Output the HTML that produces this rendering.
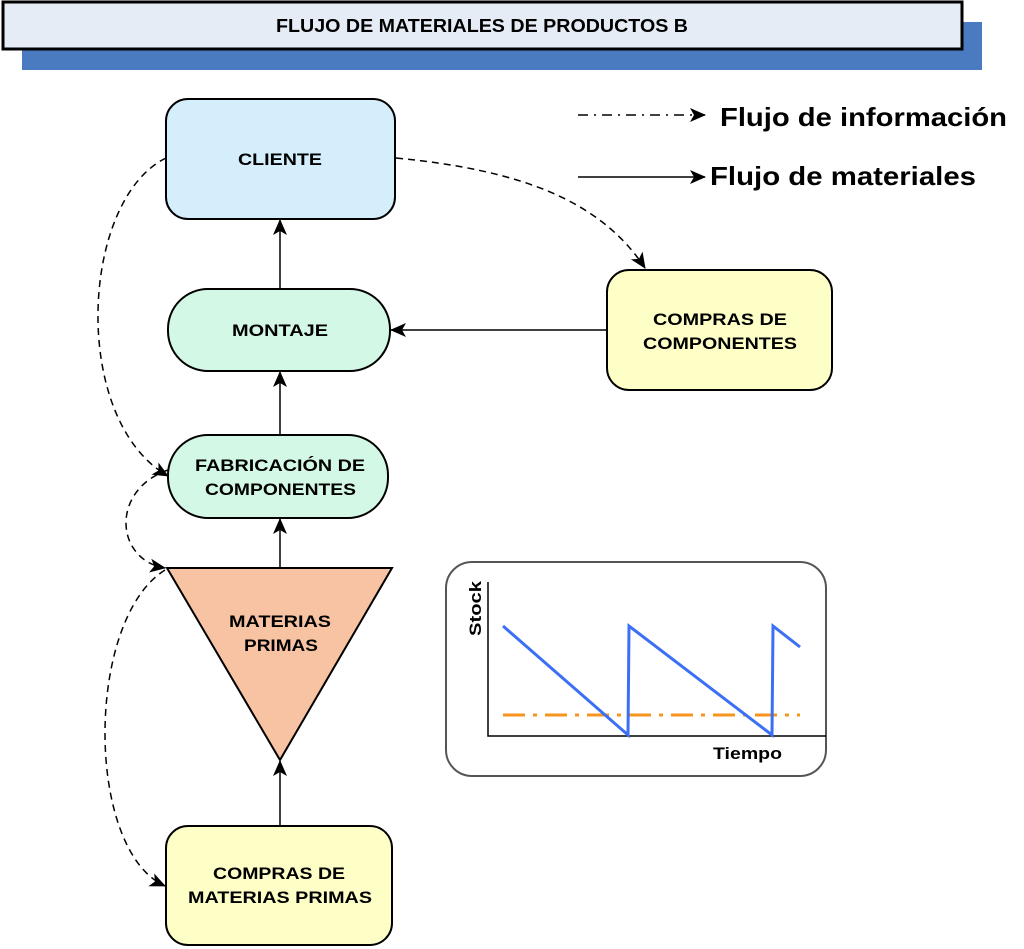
<!DOCTYPE html>
<html><head><meta charset="utf-8"><style>body{margin:0;background:#fff}svg{display:block}text{font-family:"Liberation Sans",sans-serif;font-weight:bold}</style></head><body>
<svg width="1024" height="949" viewBox="0 0 1024 949" xmlns="http://www.w3.org/2000/svg">
<defs>
<marker id="b" markerWidth="16" markerHeight="16" refX="15" refY="8" orient="auto" markerUnits="userSpaceOnUse"><path d="M0,1 L16,8 L0,15 L4,8 z" fill="#000"/></marker>
</defs>
<rect x="22" y="22" width="960" height="48" fill="#4a7abf"/>
<rect x="3" y="2" width="959" height="47" fill="#e6ecf6" stroke="#000" stroke-width="3"/>
<text x="276" y="32" font-size="18" textLength="412" lengthAdjust="spacingAndGlyphs">FLUJO DE MATERIALES DE PRODUCTOS B</text>

<rect x="166" y="99" width="229" height="120" rx="22" fill="#d5eefb" stroke="#000" stroke-width="2"/>
<text x="238" y="165" font-size="17" textLength="84" lengthAdjust="spacingAndGlyphs">CLIENTE</text>
<rect x="168" y="289" width="222" height="82" rx="40" fill="#d4f8e6" stroke="#000" stroke-width="2"/>
<text x="232" y="336" font-size="17" textLength="96" lengthAdjust="spacingAndGlyphs">MONTAJE</text>
<rect x="168" y="435" width="220" height="83" rx="40" fill="#d4f8e6" stroke="#000" stroke-width="2"/>
<text x="195" y="471" font-size="17" textLength="170" lengthAdjust="spacingAndGlyphs">FABRICACIÓN DE</text>
<text x="205" y="495" font-size="17" textLength="151" lengthAdjust="spacingAndGlyphs">COMPONENTES</text>
<path d="M167,568 L392,568 L280,760 Z" fill="#f7c3a2" stroke="#000" stroke-width="2"/>
<text x="229" y="627" font-size="17" textLength="102" lengthAdjust="spacingAndGlyphs">MATERIAS</text>
<text x="244" y="651" font-size="17" textLength="74" lengthAdjust="spacingAndGlyphs">PRIMAS</text>
<rect x="166" y="826" width="226" height="119" rx="22" fill="#feffc6" stroke="#000" stroke-width="2"/>
<text x="213" y="879" font-size="17" textLength="132" lengthAdjust="spacingAndGlyphs">COMPRAS DE</text>
<text x="188" y="903" font-size="17" textLength="184" lengthAdjust="spacingAndGlyphs">MATERIAS PRIMAS</text>
<rect x="607" y="270" width="225" height="120" rx="22" fill="#feffc6" stroke="#000" stroke-width="2"/>
<text x="653" y="325" font-size="17" textLength="134" lengthAdjust="spacingAndGlyphs">COMPRAS DE</text>
<text x="643" y="349" font-size="17" textLength="154" lengthAdjust="spacingAndGlyphs">COMPONENTES</text>

<g stroke="#000" stroke-width="1.5" fill="none">
<line x1="280" y1="289" x2="280" y2="220" marker-end="url(#b)"/>
<line x1="280" y1="435" x2="280" y2="372" marker-end="url(#b)"/>
<line x1="280" y1="568" x2="280" y2="519" marker-end="url(#b)"/>
<line x1="280" y1="826" x2="280" y2="761" marker-end="url(#b)"/>
<line x1="607" y1="330" x2="391" y2="330" marker-end="url(#b)"/>
<g stroke-dasharray="7,5">
<path d="M396,158 C520,170 600,200 645,268" marker-end="url(#b)"/>
<path d="M166,158 C80,200 70,420 168,476" marker-end="url(#b)"/>
<path d="M168,470 C110,490 115,560 165,568" marker-end="url(#b)"/>
<path d="M165,570 C85,620 85,850 165,886" marker-end="url(#b)"/>
</g>
<path d="M578,115 L705,115" stroke-dasharray="10,6,2,6" marker-end="url(#b)"/>
<line x1="578" y1="177" x2="705" y2="177" marker-end="url(#b)"/>
</g>
<text x="720" y="126" font-size="26" textLength="287" lengthAdjust="spacingAndGlyphs">Flujo de información</text>
<text x="710" y="185" font-size="26" textLength="266" lengthAdjust="spacingAndGlyphs">Flujo de materiales</text>

<rect x="446" y="562" width="380" height="214" rx="26" fill="#fff" stroke="#555" stroke-width="2"/>
<path d="M488,582 L488,736 L826,736" stroke="#000" stroke-width="1.5" fill="none"/>
<line x1="503" y1="715" x2="800" y2="715" stroke="#f7941d" stroke-width="3" stroke-dasharray="22,8,4,8"/>
<polyline points="503,626 628,735 629,626 772,735 773,626 800,647" fill="none" stroke="#3b6ff5" stroke-width="3"/>
<text transform="translate(481,636) rotate(-90)" font-size="17" textLength="55" lengthAdjust="spacingAndGlyphs">Stock</text>
<text x="713" y="759" font-size="17" textLength="69" lengthAdjust="spacingAndGlyphs">Tiempo</text>
</svg>
</body></html>
